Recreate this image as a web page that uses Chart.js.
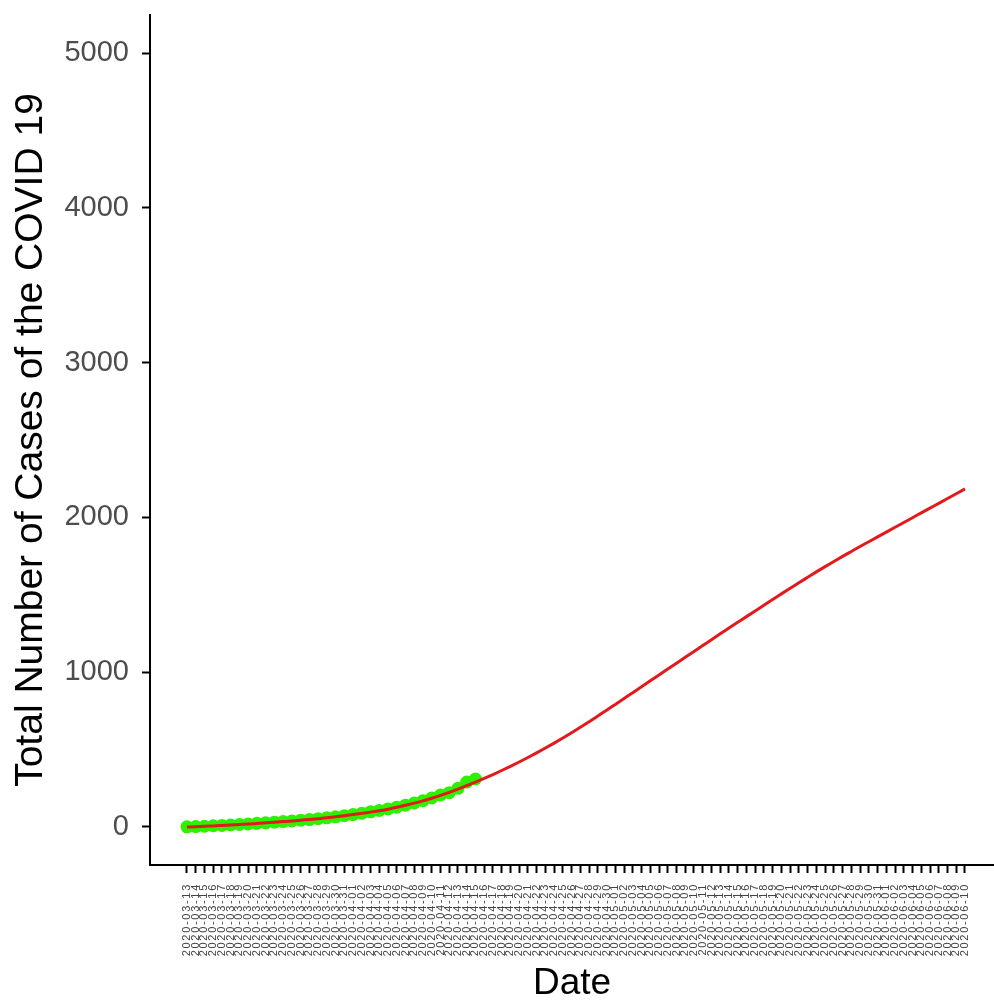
<!DOCTYPE html>
<html>
<head>
<meta charset="utf-8">
<script src="https://cdn.jsdelivr.net/npm/chart.js@4"></script>
<style>
  html, body { margin: 0; padding: 0; background: #fff; }
  #wrap { width: 994px; height: 1000px; }
</style>
</head>
<body>
<div id="wrap"><canvas id="c" width="994" height="1000"></canvas></div>
<script>
const dates = [
  "2020-03-13","2020-03-14","2020-03-15","2020-03-16","2020-03-17","2020-03-18","2020-03-19","2020-03-20",
  "2020-03-21","2020-03-22","2020-03-23","2020-03-24","2020-03-25","2020-03-26","2020-03-27","2020-03-28",
  "2020-03-29","2020-03-30","2020-03-31","2020-04-01","2020-04-02","2020-04-03","2020-04-04","2020-04-05",
  "2020-04-06","2020-04-07","2020-04-08","2020-04-09","2020-04-10","2020-04-11","2020-04-12","2020-04-13",
  "2020-04-14","2020-04-15","2020-04-16","2020-04-17","2020-04-18","2020-04-19","2020-04-20","2020-04-21",
  "2020-04-22","2020-04-23","2020-04-24","2020-04-25","2020-04-26","2020-04-27","2020-04-28","2020-04-29",
  "2020-04-30","2020-05-01","2020-05-02","2020-05-03","2020-05-04","2020-05-05","2020-05-06","2020-05-07",
  "2020-05-08","2020-05-09","2020-05-10","2020-05-11","2020-05-12","2020-05-13","2020-05-14","2020-05-15",
  "2020-05-16","2020-05-17","2020-05-18","2020-05-19","2020-05-20","2020-05-21","2020-05-22","2020-05-23",
  "2020-05-24","2020-05-25","2020-05-26","2020-05-27","2020-05-28","2020-05-29","2020-05-30","2020-05-31",
  "2020-06-01","2020-06-02","2020-06-03","2020-06-04","2020-06-05","2020-06-06","2020-06-07","2020-06-08",
  "2020-06-09","2020-06-10"
];

// observed cumulative cases (green points), 2020-03-13 .. 2020-04-15
const observed = [
  1, 3, 5, 8, 10, 13, 16, 20, 24, 27,
  31, 35, 39, 44, 48, 54, 59, 66, 73, 80,
  88, 98, 107, 117, 128, 141, 155, 170, 188, 207,
  222, 250, 290, 310
];

// fitted curve (red line), one value per date
const fitted = [
  0, 2, 5, 7, 10, 13, 16, 19, 23, 27,
  31, 35, 39, 44, 49, 54, 60, 66, 73, 80,
  88, 96, 105, 115, 127, 140, 154, 169, 186, 204,
  224, 245, 267, 290, 314, 339, 365, 392, 420, 449,
  479, 510, 542, 575, 609, 644, 680, 717, 754, 792,
  830, 868, 906, 944, 982, 1020, 1058, 1096, 1134, 1172,
  1210, 1248, 1285, 1322, 1359, 1396, 1433, 1470, 1506, 1542,
  1578, 1613, 1648, 1682, 1715, 1748, 1780, 1812, 1843, 1874,
  1905, 1936, 1967, 1998, 2029, 2060, 2091, 2122, 2153, 2184
];

const yTicks = [0, 1000, 2000, 3000, 4000, 5000];

const FONT = "'Liberation Sans', Arial, Helvetica, sans-serif";

const spacingPlugin = {
  id: 'xLabelSpacing',
  afterDatasetsDraw(chart) { chart.ctx.letterSpacing = '1.7px'; },
  afterDraw(chart) { chart.ctx.letterSpacing = '0px'; }
};

new Chart(document.getElementById('c'), {
  type: 'line',
  data: {
    datasets: [
      {
        label: 'fitted',
        data: fitted.map((v, i) => ({ x: i, y: v })),
        borderColor: '#e3191c',
        borderWidth: 3,
        pointRadius: 0,
        cubicInterpolationMode: 'monotone',
        fill: false
      },
      {
        label: 'observed',
        data: observed.map((v, i) => ({ x: i, y: v })),
        showLine: false,
        pointRadius: 6.5,
        pointBackgroundColor: '#2ef000',
        pointBorderWidth: 0,
        borderColor: '#2ef000'
      }
    ]
  },
  plugins: [spacingPlugin],
  options: {
    responsive: false,
    animation: false,
    events: [],
    layout: { autoPadding: false, padding: { top: 15, right: 0, left: 0, bottom: 0 } },
    plugins: { legend: { display: false }, tooltip: { enabled: false } },
    scales: {
      x: {
        type: 'linear',
        min: -4.23,
        max: 92.32,
        afterFit(axis) { axis.height = 135; axis.paddingLeft = 0; axis.paddingRight = 0; },
        afterBuildTicks(axis) { axis.ticks = dates.map((d, i) => ({ value: i })); },
        border: { display: true, color: '#000', width: 2 },
        grid: { drawOnChartArea: false, drawTicks: true, tickLength: 8, tickWidth: 2, tickColor: '#000' },
        ticks: {
          z: 1,
          autoSkip: false,
          minRotation: 90,
          maxRotation: 90,
          padding: 10,
          color: '#444',
          font: { family: FONT, size: 11 },
          callback: (v) => dates[v] !== undefined ? dates[v] : ''
        },
        title: {
          display: true,
          text: 'Date',
          color: '#000',
          font: { family: FONT, size: 37, lineHeight: 0.85 },
          padding: { top: 0, bottom: 0 }
        }
      },
      y: {
        type: 'linear',
        min: -245.5,
        max: 5245.5,
        afterFit(axis) { axis.width = 150; axis.paddingTop = 0; axis.paddingBottom = 0; },
        afterBuildTicks(axis) { axis.ticks = yTicks.map(v => ({ value: v })); },
        border: { display: true, color: '#000', width: 2 },
        grid: { drawOnChartArea: false, drawTicks: true, tickLength: 8, tickWidth: 2, tickColor: '#000' },
        ticks: {
          padding: 13,
          color: '#4d4d4d',
          font: { family: FONT, size: 29 },
          callback: (v) => String(v)
        },
        title: {
          display: true,
          text: 'Total Number of Cases of the COVID 19',
          color: '#000',
          font: { family: FONT, size: 39 },
          padding: { top: 8, bottom: 0 }
        }
      }
    }
  }
});
</script>
</body>
</html>
